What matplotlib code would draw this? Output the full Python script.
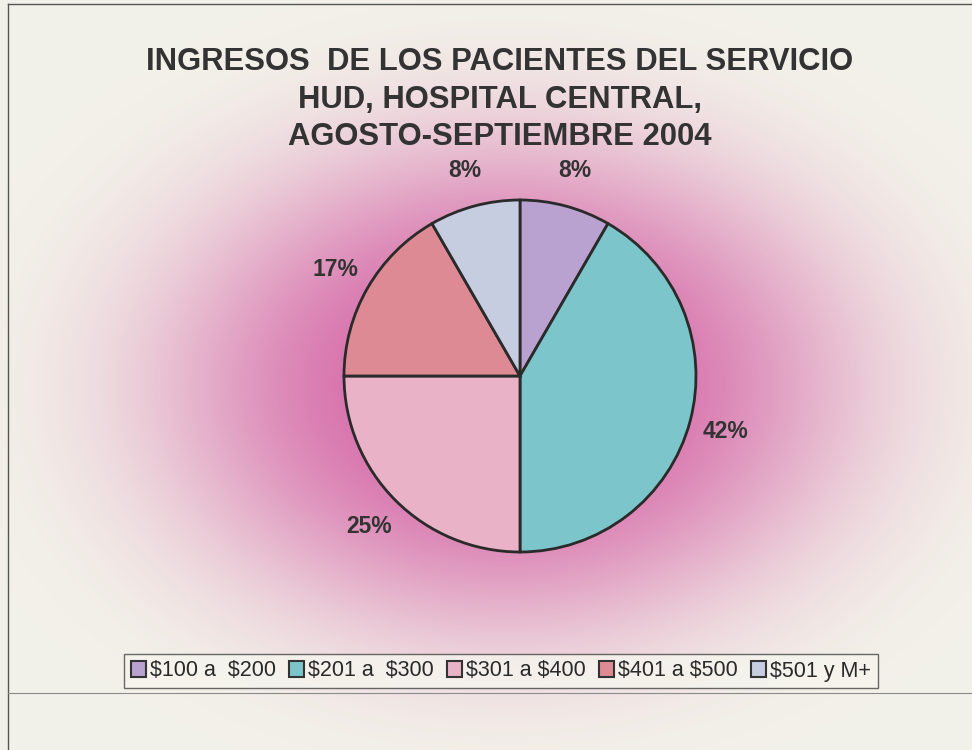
import numpy as np
import matplotlib
matplotlib.use("Agg")
import matplotlib.pyplot as plt
from matplotlib.lines import Line2D
from matplotlib.patches import Patch

plt.rcParams['font.family'] = ['Liberation Sans', 'DejaVu Sans']
plt.rcParams['text.parse_math'] = False

# datos (pacientes por rango de ingreso)
rangos = ["$100 a  $200", "$201 a  $300", "$301 a $400", "$401 a $500", "$501 y M+"]
pacientes = [1, 5, 3, 2, 1]
colores = ["#b9a2cf", "#7cc5ca", "#e9b2c6", "#dd8a95", "#c6cde0"]
titulo = ["INGRESOS  DE LOS PACIENTES DEL SERVICIO",
          "HUD, HOSPITAL CENTRAL,",
          "AGOSTO-SEPTIEMBRE 2004"]

W, H = 972, 750
fig = plt.figure(figsize=(W / 100, H / 100), dpi=100)

# fondo crema con degradado rosa
bg = fig.add_axes([0, 0, 1, 1])
yy, xx = np.mgrid[0:H, 0:W]
d = np.sqrt(((xx - 505) / 335.0) ** 2 + ((yy - 385) / 240.0) ** 2)
w = np.exp(-d ** 3.0) * 0.9
crema = np.array([243, 242, 234]) / 255.0
rosa = np.array([210, 88, 160]) / 255.0
img = crema[None, None, :] * (1 - w[..., None]) + rosa[None, None, :] * w[..., None]
bg.imshow(img, extent=[0, W, H, 0], aspect='auto')
bg.set_xlim(0, W)
bg.set_ylim(H, 0)
bg.axis('off')
bg.add_line(Line2D([8, 8], [4, H], color="#555555", lw=1))
bg.add_line(Line2D([8, W], [4, 4], color="#555555", lw=1))
bg.add_line(Line2D([8, W], [693, 693], color="#8a8a8a", lw=0.8))

# titulo
for txt, y in zip(titulo, [62, 100, 137]):
    fig.text(500 / W, 1 - y / H, txt, ha='center', va='center',
             fontsize=22.3, fontweight='bold', color="#333333")

# pastel
cx, cy, r = 520, 376, 176
ax = fig.add_axes([(cx - r) / W, (H - cy - r) / H, 2 * r / W, 2 * r / H])
wedges, textos, pct = ax.pie(pacientes, colors=colores, startangle=90, counterclock=False,
                             autopct='%1.0f%%', pctdistance=1.21,
                             wedgeprops=dict(edgecolor="#2a2a2a", linewidth=2),
                             textprops=dict(fontsize=16.5, fontweight='bold', color="#333333"))
ax.set_xlim(-1, 1)
ax.set_ylim(-1, 1)

# leyenda
handles = [Patch(facecolor=c, edgecolor="#333333", linewidth=1.5) for c in colores]
leg = fig.legend(handles, rangos, loc='center', bbox_to_anchor=(501 / W, 1 - 671 / H),
                 ncol=5, fontsize=15.5, frameon=True, fancybox=False,
                 handlelength=0.7, handleheight=0.7, handletextpad=0.2,
                 columnspacing=0.6, borderpad=0.3)
leg.get_frame().set_edgecolor("#444444")
leg.get_frame().set_facecolor("#f6f5ee")
leg.get_frame().set_linewidth(1)
for t in leg.get_texts():
    t.set_color("#2a2a2a")

fig.savefig("out.png", dpi=100)
